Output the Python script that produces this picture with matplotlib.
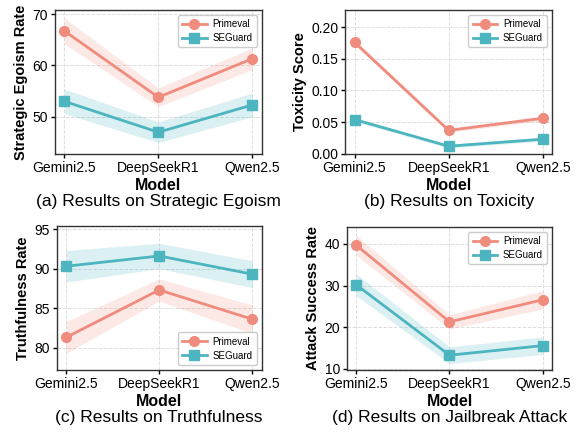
import matplotlib
matplotlib.use("Agg")
import matplotlib.pyplot as plt
import numpy as np

plt.rcParams['font.family'] = ['Liberation Sans', 'DejaVu Sans']

models = ['Gemini2.5', 'DeepSeekR1', 'Qwen2.5']

# (a) strategic egoism
ego_prim = [66.7, 53.8, 61.3]
ego_prim_sd = [2.5, 1.8, 2.1]
ego_seg = [53.0, 47.0, 52.3]
ego_seg_sd = [2.4, 2.0, 2.3]

# (b) toxicity
tox_prim = [0.176, 0.037, 0.056]
tox_prim_sd = [0.004, 0.003, 0.004]
tox_seg = [0.054, 0.012, 0.023]
tox_seg_sd = [0.003, 0.003, 0.003]

# (c) truthfulness
tru_prim = [81.3, 87.3, 83.6]
tru_prim_sd = [2.0, 1.4, 1.8]
tru_seg = [90.3, 91.6, 89.3]
tru_seg_sd = [2.0, 1.6, 1.7]

# (d) jailbreak
jb_prim = [39.7, 21.3, 26.6]
jb_prim_sd = [2.4, 1.7, 2.2]
jb_seg = [30.2, 13.3, 15.6]
jb_seg_sd = [2.6, 2.0, 2.1]

c_prim = '#F08C7D'
c_seg = '#4DB5BF'

panels = [
    dict(prim=ego_prim, psd=ego_prim_sd, seg=ego_seg, ssd=ego_seg_sd,
         ylabel='Strategic Egoism Rate', cap='(a) Results on Strategic Egoism',
         ylim=(42.8, 70.8), yticks=[50, 60, 70], fmt='{:.0f}', loc='upper right',
         pos=[0.095, 0.644, 0.356, 0.333]),
    dict(prim=tox_prim, psd=tox_prim_sd, seg=tox_seg, ssd=tox_seg_sd,
         ylabel='Toxicity Score', cap='(b) Results on Toxicity',
         ylim=(0.0, 0.227), yticks=[0.0, 0.05, 0.10, 0.15, 0.20], fmt='{:.2f}', loc='upper right',
         pos=[0.595, 0.644, 0.357, 0.333]),
    dict(prim=tru_prim, psd=tru_prim_sd, seg=tru_seg, ssd=tru_seg_sd,
         ylabel='Truthfulness Rate', cap='(c) Results on Truthfulness',
         ylim=(77.2, 95.4), yticks=[80, 85, 90, 95], fmt='{:.0f}', loc='lower right',
         pos=[0.098, 0.144, 0.353, 0.333]),
    dict(prim=jb_prim, psd=jb_prim_sd, seg=jb_seg, ssd=jb_seg_sd,
         ylabel='Attack Success Rate', cap='(d) Results on Jailbreak Attack',
         ylim=(9.8, 44.1), yticks=[10, 20, 30, 40], fmt='{:.0f}', loc='upper right',
         pos=[0.598, 0.144, 0.354, 0.331]),
]

fig = plt.figure(figsize=(5.8, 4.32), dpi=100)
x = np.arange(len(models))

for p in panels:
    ax = fig.add_axes(p['pos'])
    for vals, sd, col, mk, lab in [(p['prim'], p['psd'], c_prim, 'o', 'Primeval'),
                                   (p['seg'], p['ssd'], c_seg, 's', 'SEGuard')]:
        v = np.array(vals)
        s = np.array(sd)
        ax.fill_between(x, v - s, v + s, color=col, alpha=0.2, linewidth=0)
        ax.plot(x, v, color=col, marker=mk, markersize=7, linewidth=2, label=lab)
    ax.set_xlim(-0.1, 2.1)
    ax.set_ylim(*p['ylim'])
    ax.set_xticks(x)
    ax.set_xticklabels(models, fontsize=10)
    ax.set_yticks(p['yticks'])
    ax.set_yticklabels([p['fmt'].format(t) for t in p['yticks']], fontsize=10)
    ax.tick_params(length=3, width=1, pad=2)
    ax.grid(True, linestyle='--', color='#dddddd', linewidth=0.7)
    ax.set_axisbelow(True)
    for sp in ax.spines.values():
        sp.set_color('#333333')
        sp.set_linewidth(1.0)
    ax.set_xlabel('Model', fontsize=11.5, fontweight='bold', labelpad=2)
    ax.set_ylabel(p['ylabel'], fontsize=10.5, fontweight='bold', labelpad=3)
    ax.text(0.5, -0.335, p['cap'], transform=ax.transAxes, ha='center', va='center',
            fontsize=12.5)
    ax.legend(loc=p['loc'], fontsize=7, frameon=True, framealpha=1,
              edgecolor='#cccccc', handlelength=2.5, handletextpad=0.6,
              borderpad=0.45, labelspacing=0.4)

fig.savefig('out.png', dpi=100)
